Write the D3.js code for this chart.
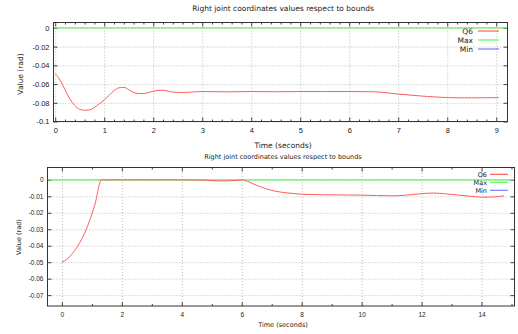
<!DOCTYPE html>
<html>
<head>
<meta charset="utf-8">
<script src="https://cdn.jsdelivr.net/npm/d3@7"></script>
<style>
  body { margin: 0; background: #fff; }
  svg { display: block; font-family: "DejaVu Sans", sans-serif; }
</style>
</head>
<body>
<svg id="chart" width="518" height="334"></svg>
<script>
// --- data ---
const titleText = 'Right joint coordinates values respect to bounds';
const legendNames = ['Q6', 'Max', 'Min'];

// upper plot
const topTime = [0, 0.05, 0.1, 0.2, 0.3, 0.4, 0.5, 0.6, 0.7, 0.8, 0.9, 1.0, 1.1, 1.2, 1.3, 1.4, 1.5, 1.6, 1.7, 1.8, 1.9,
  2.0, 2.1, 2.2, 2.4, 2.6, 2.8, 3.0, 3.5, 4.0, 4.5, 5.0, 5.5, 6.0, 6.5, 6.8, 7.0, 7.3, 7.6, 7.9, 8.2, 8.5, 8.8, 9.05];
const topQ6 = [-0.049, -0.052, -0.056, -0.066, -0.076, -0.083, -0.087, -0.088, -0.0875, -0.085, -0.081, -0.077, -0.072,
  -0.067, -0.064, -0.0635, -0.066, -0.069, -0.070, -0.0702, -0.069, -0.0678, -0.0667, -0.0667, -0.0685, -0.069, -0.0685,
  -0.068, -0.0683, -0.068, -0.0682, -0.068, -0.068, -0.068, -0.0682, -0.0695, -0.0707, -0.072, -0.0733, -0.0742,
  -0.0747, -0.0747, -0.0746, -0.0745];
const topXTicks = [0, 1, 2, 3, 4, 5, 6, 7, 8, 9];
const topYTicks = [0, -0.02, -0.04, -0.06, -0.08, -0.1];
const topYLabels = ['0', '-0.02', '-0.04', '-0.06', '-0.08', '-0.1'];

// lower plot
const botTime = [0, 0.15, 0.3, 0.5, 0.7, 0.9, 1.1, 1.32, 1.6, 2, 3, 4, 4.8, 5.0, 5.3, 5.6, 5.9, 6.0, 6.2, 6.5, 6.8, 7.1,
  7.5, 8, 8.5, 9, 9.5, 10, 10.5, 11, 11.5, 12, 12.4, 12.8, 13.2, 13.6, 14, 14.4, 14.75];
const botQ6 = [-0.050, -0.0485, -0.0458, -0.041, -0.0345, -0.026, -0.015, 0, 0, 0, 0, 0, -0.0002, -0.0005, -0.0007,
  -0.0006, -0.0002, 0, -0.001, -0.0033, -0.0053, -0.0068, -0.0079, -0.0087, -0.009, -0.0091, -0.0092, -0.0093, -0.0095,
  -0.0097, -0.0093, -0.0084, -0.008, -0.0085, -0.0092, -0.0099, -0.0105, -0.0104, -0.0097];
const botXTicks = [0, 2, 4, 6, 8, 10, 12, 14];
const botYTicks = [0, -0.01, -0.02, -0.03, -0.04, -0.05, -0.06, -0.07];
const botYLabels = ['0', '-0.01', '-0.02', '-0.03', '-0.04', '-0.05', '-0.06', '-0.07'];

// joint bounds
const maxBound = 0;
const minBound = -0.2;

const colors = { q6: '#ff5a5a', max: '#5cf55c', min: '#7a7aff' };
const svg = d3.select('#chart');

function drawPanel(p) {
  const g = svg.append('g');
  const x = d3.scaleLinear().domain(p.xDomain).range([p.left, p.right]);
  const y = d3.scaleLinear().domain(p.yDomain).range([p.bottom, p.top]);
  const w = p.right - p.left, h = p.bottom - p.top;

  // title and axis labels
  g.append('text').attr('x', 283).attr('y', p.titleY).attr('text-anchor', 'middle')
    .attr('font-size', p.fs).attr('fill', '#222').text(titleText);
  g.append('text').attr('x', 283).attr('y', p.xLabelY).attr('text-anchor', 'middle')
    .attr('font-size', p.fs).attr('fill', '#222').text('Time (seconds)');
  g.append('text').attr('transform', `translate(${p.yLabelX},${p.yLabelY}) rotate(-90)`)
    .attr('text-anchor', 'middle').attr('font-size', p.fs).attr('fill', '#222').text('Value (rad)');

  // grid
  g.append('g').attr('transform', `translate(0,${p.bottom})`)
    .call(d3.axisBottom(x).tickValues(p.xTicks).tickSize(-h).tickFormat(''))
    .call(a => a.select('.domain').remove())
    .call(a => a.selectAll('line').attr('stroke', '#bbb').attr('stroke-dasharray', '1,2'));
  g.append('g').attr('transform', `translate(${p.left},0)`)
    .call(d3.axisLeft(y).tickValues(p.yTicks).tickSize(-w).tickFormat(''))
    .call(a => a.select('.domain').remove())
    .call(a => a.selectAll('line').attr('stroke', '#bbb').attr('stroke-dasharray', '1,2'));

  // tick labels and inward ticks
  const xb = g.append('g').attr('transform', `translate(0,${p.bottom})`)
    .call(d3.axisBottom(x).tickValues(p.xTicks).tickSizeInner(-4).tickSizeOuter(0).tickPadding(p.xPad));
  const xt = g.append('g').attr('transform', `translate(0,${p.top})`)
    .call(d3.axisTop(x).tickValues(p.xTicks).tickSizeInner(-4).tickSizeOuter(0).tickFormat(''));
  const yl = g.append('g').attr('transform', `translate(${p.left},0)`)
    .call(d3.axisLeft(y).tickValues(p.yTicks).tickSizeInner(-4).tickSizeOuter(0).tickPadding(p.yPad)
      .tickFormat((d, i) => p.yLabels[i]));
  const yr = g.append('g').attr('transform', `translate(${p.right},0)`)
    .call(d3.axisRight(y).tickValues(p.yTicks).tickSizeInner(-4).tickSizeOuter(0).tickFormat(''));
  [xb, xt, yl, yr].forEach(a => {
    a.select('.domain').remove();
    a.selectAll('line').attr('stroke', '#444');
    a.selectAll('text').attr('font-size', p.fs).attr('fill', '#222').attr('font-family', null);
  });
  // minor ticks
  g.append('g').attr('transform', `translate(0,${p.bottom})`)
    .call(d3.axisBottom(x).tickValues(p.xMinor).tickSizeInner(-2).tickSizeOuter(0).tickFormat(''))
    .call(a => a.select('.domain').remove()).selectAll('line').attr('stroke', '#444');
  g.append('g').attr('transform', `translate(0,${p.top})`)
    .call(d3.axisTop(x).tickValues(p.xMinor).tickSizeInner(-2).tickSizeOuter(0).tickFormat(''))
    .call(a => a.select('.domain').remove()).selectAll('line').attr('stroke', '#444');

  // series
  const clipId = 'clip' + p.id;
  g.append('clipPath').attr('id', clipId).append('rect')
    .attr('x', p.left).attr('y', p.top).attr('width', w).attr('height', h);
  const plot = g.append('g').attr('clip-path', `url(#${clipId})`);
  plot.append('line').attr('x1', p.left).attr('x2', p.right)
    .attr('y1', y(maxBound)).attr('y2', y(maxBound)).attr('stroke', colors.max).attr('stroke-width', 1.2);
  plot.append('line').attr('x1', p.left).attr('x2', p.right)
    .attr('y1', y(minBound)).attr('y2', y(minBound)).attr('stroke', colors.min).attr('stroke-width', 1.2);
  const line = d3.line().x((d, i) => x(p.time[i])).y(d => y(d)).curve(d3.curveMonotoneX);
  plot.append('path').datum(p.q6).attr('fill', 'none').attr('stroke', colors.q6)
    .attr('stroke-width', 1).attr('d', line);

  // frame
  g.append('rect').attr('x', p.left).attr('y', p.top).attr('width', w).attr('height', h)
    .attr('fill', 'none').attr('stroke', '#333').attr('stroke-width', 1);

  // legend
  const legColors = [colors.q6, colors.max, colors.min];
  legendNames.forEach((name, i) => {
    const ly = p.legY + i * p.legStep;
    g.append('text').attr('x', p.legTextX).attr('y', ly + p.fs * 0.36).attr('text-anchor', 'end')
      .attr('font-size', p.fs).attr('fill', '#222').text(name);
    g.append('line').attr('x1', p.legLine[0]).attr('x2', p.legLine[1]).attr('y1', ly).attr('y2', ly)
      .attr('stroke', legColors[i]).attr('stroke-width', 1.2);
  });
}

drawPanel({
  id: 'top', left: 53.5, right: 507.5, top: 22.5, bottom: 121.5,
  xDomain: [-0.035, 9.23], yDomain: [-0.1, 0.0058],
  xTicks: topXTicks, xMinor: d3.range(0.2, 9.2, 0.2).filter(v => Math.abs(v - Math.round(v)) > 0.01),
  yTicks: topYTicks, yLabels: topYLabels,
  time: topTime, q6: topQ6, fs: 7.5, xPad: 6, yPad: 4,
  titleY: 10.5, xLabelY: 147.5, yLabelX: 22.5, yLabelY: 74,
  legTextX: 473, legLine: [478, 499], legY: 31, legStep: 9
});

drawPanel({
  id: 'bot', left: 47.5, right: 514.5, top: 167.5, bottom: 306,
  xDomain: [-0.48, 15.1], yDomain: [-0.0766, 0.0075],
  xTicks: botXTicks, xMinor: [1, 3, 5, 7, 9, 11, 13, 15],
  yTicks: botYTicks, yLabels: botYLabels,
  time: botTime, q6: botQ6, fs: 6.5, xPad: 6, yPad: 4,
  titleY: 158.5, xLabelY: 326.5, yLabelX: 21, yLabelY: 237,
  legTextX: 487, legLine: [490, 508], legY: 174.3, legStep: 8
});
</script>
</body>
</html>
